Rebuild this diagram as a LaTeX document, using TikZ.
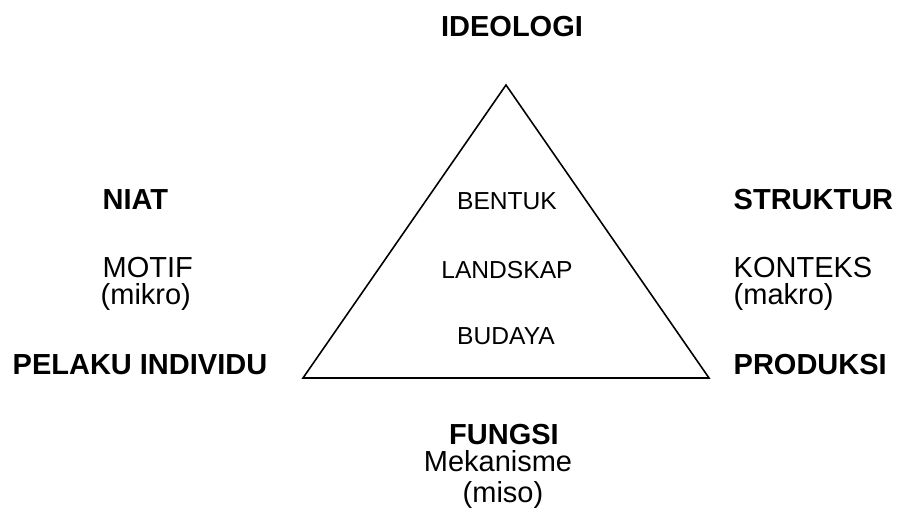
\documentclass[tikz,border=0pt]{standalone}
\usepackage{fontspec}
\setmainfont{Liberation Sans}
\usepackage{tikz}
\tikzset{sudut/.style={inner sep=0pt, font=\fontsize{8.25}{9.5}\selectfont\bfseries}}
\tikzset{keterangan/.style={inner sep=0pt, font=\fontsize{8.25}{9.5}\selectfont}}
\tikzset{dalam/.style={inner sep=0pt, font=\fontsize{7}{8.5}\selectfont}}

\begin{document}
\begin{tikzpicture}
\useasboundingbox (0,0) rectangle (9.01,5.20);

\coordinate (puncak) at (5.06,4.35);
\coordinate (kiri) at (3.03,1.42);
\coordinate (kanan) at (7.09,1.42);
\draw[line width=0.45pt] (puncak)--(kanan)--(kiri)--cycle;

\node[dalam, anchor=base] (bentuk) at (5.07,3.10) {BENTUK};
\node[dalam, anchor=base] (landskap) at (5.07,2.41) {LANDSKAP};
\node[dalam, anchor=base] (budaya) at (5.06,1.75) {BUDAYA};

\node[sudut, anchor=base] (ideologi) at (5.12,4.83) {IDEOLOGI};

\node[sudut, anchor=base west] (niat) at (1.02,3.10) {NIAT};
\node[keterangan, anchor=base west] (motif) at (1.02,2.42) {MOTIF};
\node[keterangan, anchor=base west] (mikro) at (1.00,2.15) {(mikro)};
\node[sudut, anchor=base west] (pelaku) at (0.12,1.45) {PELAKU INDIVIDU};

\node[sudut, anchor=base west] (struktur) at (7.33,3.10) {STRUKTUR};
\node[keterangan, anchor=base west] (konteks) at (7.33,2.42) {KONTEKS};
\node[keterangan, anchor=base west] (makro) at (7.33,2.15) {(makro)};
\node[sudut, anchor=base west] (produksi) at (7.33,1.45) {PRODUKSI};

\node[sudut, anchor=base] (fungsi) at (5.04,0.75) {FUNGSI};
\node[keterangan, anchor=base] (mekanisme) at (4.98,0.48) {Mekanisme};
\node[keterangan, anchor=base] (miso) at (5.03,0.17) {(miso)};
\end{tikzpicture}
\end{document}
